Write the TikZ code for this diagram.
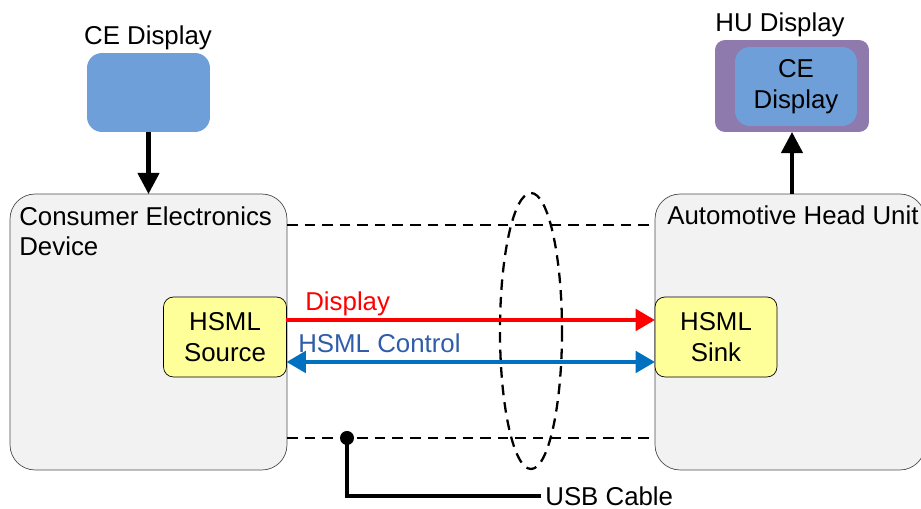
\documentclass[tikz,border=0pt]{standalone}
\usepackage{fontspec}
\setmainfont{Liberation Sans}
\usepackage{tikz}
\usetikzlibrary{arrows.meta,positioning}
\definecolor{screenblue}{RGB}{111,159,216}
\definecolor{hupurple}{RGB}{142,122,172}
\definecolor{hsmlyellow}{RGB}{255,255,153}
\definecolor{devgray}{RGB}{242,242,242}
\definecolor{ctrlblue}{RGB}{0,112,192}
\definecolor{ctrltext}{RGB}{47,93,168}

\begin{document}
\begin{tikzpicture}[x=0.02cm,y=-0.02cm,
    every node/.style={font=\fontsize{14.7}{17.6}\selectfont},
    devbox/.style={draw=black!70,fill=devgray,rounded corners=0.5cm,minimum width=5.54cm,minimum height=5.52cm,inner sep=0pt,outer sep=0pt},
    hsml/.style={draw=black,fill=hsmlyellow,rounded corners=0.2cm,minimum width=2.46cm,minimum height=1.6cm,align=center,inner sep=0pt,outer sep=0pt},
    screen/.style={fill=screenblue,rounded corners=0.3cm,minimum width=2.46cm,minimum height=1.58cm,align=center,inner sep=0pt,outer sep=0pt},
    feed/.style={line width=2.4pt,-{Triangle[width=12pt,length=12pt]}},
    cable/.style={line width=1.3pt,dash pattern=on 6pt off 4pt},
    flow/.style={line width=2.6pt,{Triangle[width=12pt,length=11pt]}-{Triangle[width=12pt,length=11pt]}},
    oneway/.style={arrows={-Triangle[width=12pt,length=11pt]}}]
  \useasboundingbox (0,0) rectangle (921,509);

  \node[screen] (cedisp) at (148.5,92.5) {};
  \node[anchor=base] (cedisplbl) at (148,45) {CE Display};

  \node[fill=hupurple,rounded corners=0.2cm,minimum width=3.08cm,minimum height=1.84cm,inner sep=0pt,outer sep=0pt] (hudisp) at (792,86) {};
  \node[screen,minimum width=2.44cm] (hucedisp) at (796,86.5) {CE\\Display};
  \node[anchor=base] (hudisplbl) at (780,32) {HU Display};

  \node[devbox] (cedev) at (148.5,332) {};
  \node[anchor=north west,inner sep=0pt,align=left] (cedevlbl) at (19,206) {Consumer Electronics\\Device};
  \node[devbox,minimum width=5.4cm] (hu) at (790,332) {};
  \node[anchor=base west,inner sep=0pt] (hulbl) at (667,225) {Automotive Head Unit};

  \node[hsml] (src) at (225,337) {HSML\\Source};
  \node[hsml,minimum width=2.44cm] (sink) at (716,337) {HSML\\Sink};

  \draw[feed] (cedisp.south) -- (cedev.north);
  \draw[feed] (hu.north -| hudisp.south) -- (hudisp.south);

  \draw[cable] ([yshift=-0.62cm]cedev.north east) -- ([yshift=-0.62cm]hu.north west);
  \draw[cable] ([yshift=0.64cm]cedev.south east) -- ([yshift=0.64cm]hu.south west);
  \draw[cable] (531,331) ellipse [x radius=31, y radius=138];

  \draw[flow,oneway,red] ([yshift=0.34cm]src.east) -- ([yshift=0.34cm]sink.west);
  \node[anchor=base west,text=red,inner sep=0pt] (displbl) at (305,311) {Display};
  \draw[flow,ctrlblue] ([yshift=-0.5cm]src.east) -- ([yshift=-0.5cm]sink.west);
  \node[anchor=base west,text=ctrltext,inner sep=0pt] (ctrllbl) at (298,353) {HSML Control};

  \coordinate (usbjoint) at (347,438);
  \fill (usbjoint) circle [radius=7];
  \node[anchor=west,inner sep=0pt] (usb) at (545,496) {USB Cable};
  \draw[line width=2.4pt] (usbjoint) |- ([xshift=-0.08cm]usb.west);
\end{tikzpicture}
\end{document}
